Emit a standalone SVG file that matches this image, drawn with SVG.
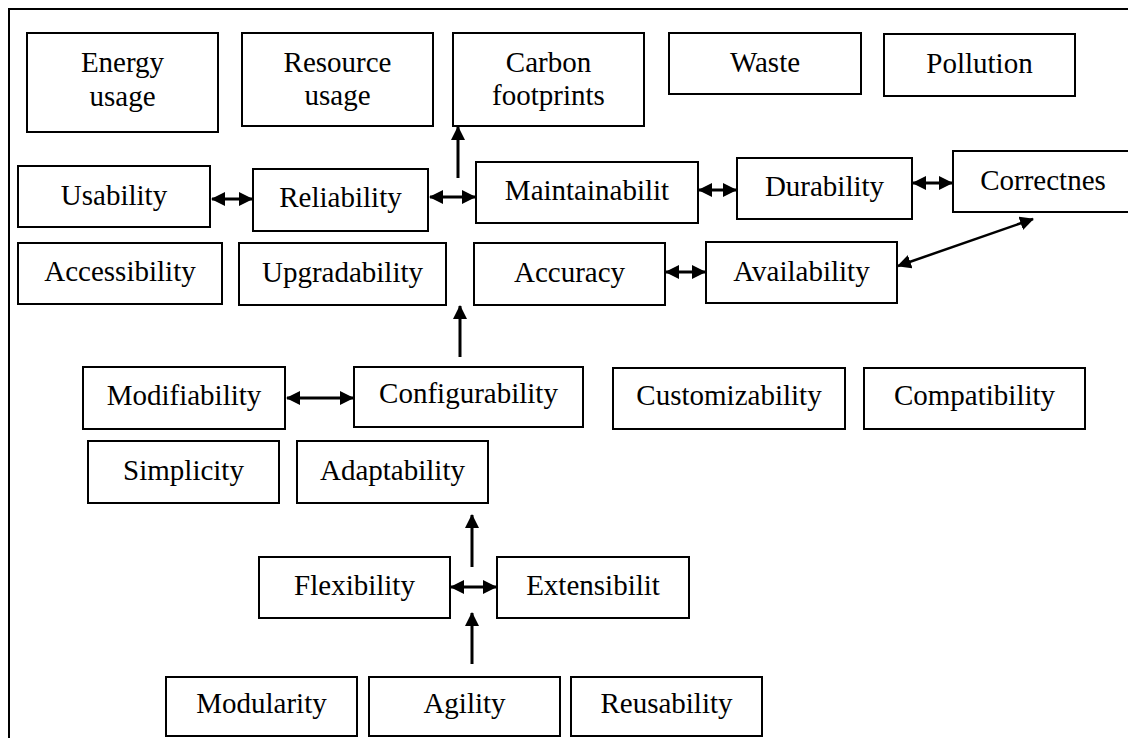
<svg xmlns="http://www.w3.org/2000/svg" width="1128" height="738" viewBox="0 0 1128 738">
<style>
.box{fill:#fff;stroke:#000;stroke-width:2}
.t{font-family:"Liberation Serif","Times New Roman",serif;font-size:29px;fill:#000;text-anchor:middle}
.c{stroke:#000;stroke-width:3;fill:none}
.d{stroke:#000;stroke-width:2.5;fill:none}
</style>
<defs>
<marker id="ah" markerUnits="userSpaceOnUse" markerWidth="14" markerHeight="14" refX="13" refY="7" orient="auto-start-reverse" viewBox="0 0 14 14">
<path d="M0,0 L14,7 L0,14 z" fill="#000"/>
</marker>
</defs>
<rect x="9" y="9" width="1200" height="800" fill="none" stroke="#000" stroke-width="2"/>
<g id="energy"><rect class="box" x="27" y="33" width="191" height="99"/><text class="t" x="122.5" y="72">Energy</text><text class="t" x="122.5" y="106">usage</text></g>
<g id="resource"><rect class="box" x="242" y="33" width="191" height="93"/><text class="t" x="337.5" y="72">Resource</text><text class="t" x="337.5" y="105">usage</text></g>
<g id="carbon"><rect class="box" x="453" y="33" width="191" height="93"/><text class="t" x="548.5" y="72">Carbon</text><text class="t" x="548.5" y="105">footprints</text></g>
<g id="waste"><rect class="box" x="669" y="33" width="192" height="61"/><text class="t" x="765" y="72">Waste</text></g>
<g id="pollution"><rect class="box" x="884" y="34" width="191" height="62"/><text class="t" x="979.5" y="73">Pollution</text></g>
<g id="usability"><rect class="box" x="18" y="166" width="192" height="61"/><text class="t" x="114" y="205">Usability</text></g>
<g id="reliability"><rect class="box" x="253" y="169" width="175" height="62"/><text class="t" x="340.5" y="207">Reliability</text></g>
<g id="maintainability"><rect class="box" x="476" y="162" width="222" height="61"/><text class="t" x="587" y="200">Maintainabilit</text></g>
<g id="durability"><rect class="box" x="737" y="158" width="175" height="61"/><text class="t" x="824.5" y="196">Durability</text></g>
<g id="correctness"><rect class="box" x="953" y="151" width="180" height="61"/><text class="t" x="1043" y="190">Correctnes</text></g>
<g id="accessibility"><rect class="box" x="18" y="243" width="204" height="61"/><text class="t" x="120" y="281">Accessibility</text></g>
<g id="upgradability"><rect class="box" x="239" y="243" width="207" height="62"/><text class="t" x="342.5" y="282">Upgradability</text></g>
<g id="accuracy"><rect class="box" x="474" y="243" width="191" height="62"/><text class="t" x="569.5" y="282">Accuracy</text></g>
<g id="availability"><rect class="box" x="706" y="242" width="191" height="61"/><text class="t" x="801.5" y="281">Availability</text></g>
<g id="modifiability"><rect class="box" x="83" y="367" width="202" height="62"/><text class="t" x="184" y="405">Modifiability</text></g>
<g id="configurability"><rect class="box" x="354" y="367" width="229" height="60"/><text class="t" x="468.5" y="403">Configurability</text></g>
<g id="customizability"><rect class="box" x="613" y="368" width="232" height="61"/><text class="t" x="729" y="405">Customizability</text></g>
<g id="compatibility"><rect class="box" x="864" y="368" width="221" height="61"/><text class="t" x="974.5" y="405">Compatibility</text></g>
<g id="simplicity"><rect class="box" x="88" y="441" width="191" height="62"/><text class="t" x="183.5" y="480">Simplicity</text></g>
<g id="adaptability"><rect class="box" x="297" y="441" width="191" height="62"/><text class="t" x="392.5" y="480">Adaptability</text></g>
<g id="flexibility"><rect class="box" x="259" y="557" width="191" height="61"/><text class="t" x="354.5" y="595">Flexibility</text></g>
<g id="extensibility"><rect class="box" x="497" y="557" width="192" height="61"/><text class="t" x="593" y="595">Extensibilit</text></g>
<g id="modularity"><rect class="box" x="166" y="677" width="191" height="59"/><text class="t" x="261.5" y="713">Modularity</text></g>
<g id="agility"><rect class="box" x="369" y="677" width="191" height="59"/><text class="t" x="464.5" y="713">Agility</text></g>
<g id="reusability"><rect class="box" x="571" y="677" width="191" height="59"/><text class="t" x="666.5" y="713">Reusability</text></g>
<g id="connectors">
<line class="c" x1="212" y1="199" x2="252" y2="199" marker-start="url(#ah)" marker-end="url(#ah)"/>
<line class="c" x1="430" y1="197" x2="475" y2="197" marker-start="url(#ah)" marker-end="url(#ah)"/>
<line class="c" x1="458" y1="178" x2="458" y2="127" marker-end="url(#ah)"/>
<line class="c" x1="699" y1="190" x2="736" y2="190" marker-start="url(#ah)" marker-end="url(#ah)"/>
<line class="c" x1="913" y1="183" x2="952" y2="183" marker-start="url(#ah)" marker-end="url(#ah)"/>
<line class="d" x1="1033" y1="219" x2="898" y2="266" marker-start="url(#ah)" marker-end="url(#ah)"/>
<line class="c" x1="666" y1="272" x2="705" y2="272" marker-start="url(#ah)" marker-end="url(#ah)"/>
<line class="c" x1="460" y1="357" x2="460" y2="306" marker-end="url(#ah)"/>
<line class="c" x1="287" y1="398" x2="353" y2="398" marker-start="url(#ah)" marker-end="url(#ah)"/>
<line class="c" x1="472" y1="567" x2="472" y2="515" marker-end="url(#ah)"/>
<line class="c" x1="451" y1="587" x2="496" y2="587" marker-start="url(#ah)" marker-end="url(#ah)"/>
<line class="c" x1="472" y1="664" x2="472" y2="613" marker-end="url(#ah)"/>
</g>
</svg>
